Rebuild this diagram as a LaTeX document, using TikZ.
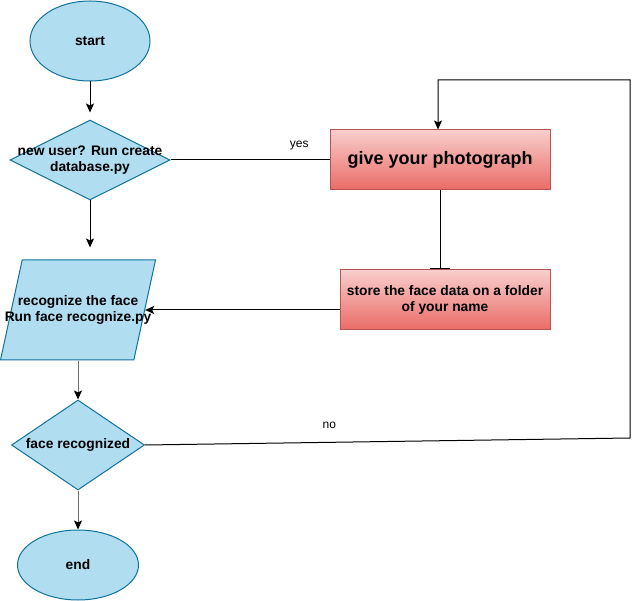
\documentclass[tikz,border=0pt]{standalone}
\usepackage{fontspec}
\setmainfont{Liberation Sans}
\usepackage{tikz}
\usetikzlibrary{arrows.meta,shapes.geometric}

\definecolor{bluefill}{HTML}{B1DDF0}
\definecolor{bluedraw}{HTML}{10739E}
\definecolor{redtop}{HTML}{F8CECC}
\definecolor{redbottom}{HTML}{EA6B66}
\definecolor{reddraw}{HTML}{B85450}
\definecolor{linegray}{HTML}{6E6E6E}

\begin{document}
\begin{tikzpicture}[x=1pt, y=-1pt,
  every node/.style={font=\bfseries\fontsize{13.8}{16}\selectfont},
  terminal/.style={draw=bluedraw, fill=bluefill, line width=1, ellipse, minimum width=120, minimum height=80, inner sep=0},
  decision/.style={draw=bluedraw, fill=bluefill, line width=1, diamond, inner sep=0},
  inout/.style={draw=bluedraw, fill=bluefill, line width=1, trapezium, trapezium left angle=79, trapezium right angle=101, trapezium stretches=true, minimum width=155, minimum height=100, inner sep=2},
  process/.style={draw=reddraw, top color=redtop, bottom color=redbottom, line width=1, rectangle, minimum height=60, inner sep=0, align=center},
  txt/.style={align=center, inner sep=0},
  edgelabel/.style={font=\fontsize{12}{14}\selectfont},
  arrow/.style={-{Stealth[length=9, width=8, inset=2, color=black]}, line width=1}]

\useasboundingbox (0,0) rectangle (632,601);

% left column

\node[terminal] (start) at (90, 41) {start};
\node[decision, minimum width=160, minimum height=80] (newuser) at (90, 160) {};
\node[txt] (newuserT) at (90, 160) {new user? Run create\\database.py};
\node[inout] (recog) at (78, 310) {};
\node[txt] (recogT) at (78, 310) {recognize the face\\Run face recognize.py};
\node[decision, minimum width=133, minimum height=90] (found) at (78, 445) {};
\node[txt] (foundT) at (78, 445) {face recognized};
\node[terminal, minimum width=121, minimum height=70] (end) at (78, 565) {end};

% right column

\node[process, minimum width=220, font=\bfseries\fontsize{18}{21}\selectfont] (photo) at (440, 160) {give your photograph};
\node[process, minimum width=210] (store) at (445, 300) {store the face data on a folder\\of your name};

% loop corners
\coordinate (loopA) at (630, 438);
\coordinate (loopB) at (438, 80);

% connectors
\draw [arrow, shorten >=7] (start) -- (newuser);
\draw [line width=1] (newuser.east) -- node[edgelabel, pos=0.81, above=6] (yes) {yes} (photo.west);
\draw [arrow, shorten >=12] (newuser.south) -- (newuser.south |- recog.north);
\draw [-{Bar[width=20]}, line width=1] (photo.south) -- (photo.south |- store.north);
\draw [arrow] (store.west |- recog.east) -- (recog.east);
\draw [arrow, linegray] (recog.south) -- (found.north);
\draw [arrow, linegray] (found.south) -- (end.north);
\draw [arrow] (found.east) -- node[edgelabel, pos=0.38, above=10] (no) {no} (loopA) |- (loopB) -- (loopB |- photo.north);

\end{tikzpicture}
\end{document}
